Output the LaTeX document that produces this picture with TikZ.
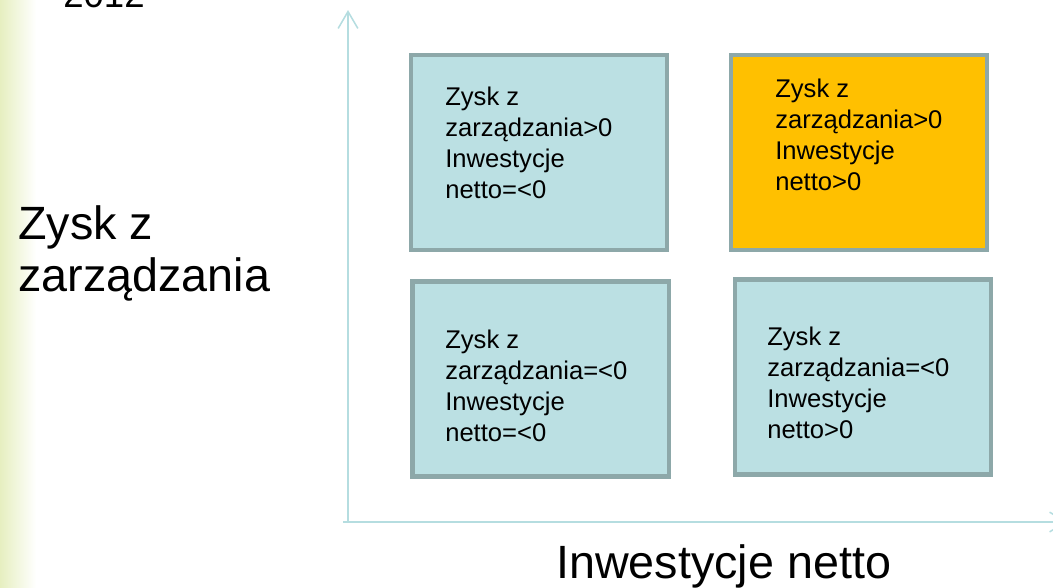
\documentclass[tikz,border=0pt]{standalone}
\usepackage{fontspec}
\setmainfont{Liberation Sans}
\usetikzlibrary{arrows.meta}

\definecolor{cellfill}{RGB}{187,224,227}
\definecolor{cellline}{RGB}{141,168,169}
\definecolor{hotfill}{RGB}{255,192,0}
\definecolor{axisline}{RGB}{181,221,224}
\definecolor{stripleft}{RGB}{230,239,192}

\tikzset{
  cell/.style={draw=cellline, line width=2.9pt, fill=cellfill,
    minimum width=6.4cm, minimum height=4.875cm, inner sep=0pt},
  celltext/.style={anchor=north west, align=left, inner sep=0pt,
    font=\fontsize{18.2}{22}\selectfont},
  biglabel/.style={align=left, inner sep=0pt,
    font=\fontsize{33.2}{37}\selectfont},
  axis/.style={draw=axisline, line width=1.1pt,
    -{Straight Barb[length=12pt,width=14pt,line width=1.1pt]}}
}

\begin{document}
\begin{tikzpicture}[x=0.025cm,y=-0.025cm]
%\draw [lightgray,step=50](0,0) grid (1053,587);
\useasboundingbox (0,0) rectangle (1053,587);
\clip (0,0) rectangle (1053,587);

\shade [left color=stripleft, right color=white] (0,0) rectangle (36,587); % faixa
\node [biglabel, anchor=base west, font=\fontsize{26}{30}\selectfont] (ano) at (63,7) {2012};

% eixos
\coordinate (origem) at (348,523);
\coordinate (ytopo) at (348,10);
\coordinate (xini) at (343,522);
\coordinate (xfim) at (1068,522);
\draw [axis] (origem) -- (ytopo);
\draw [axis] (xini) -- (xfim);

% quadrantes
\node [cell] (tl) at (539,152.5) {};
\node [cell, fill=hotfill] (tr) at (859,152.5) {};
\node [cell] (bl) at (540.5,379) {};
\node [cell] (br) at (863,377) {};

\node [celltext] (tltxt) at (445,86.5) {Zysk z\\zarządzania>0\\Inwestycje\\netto=<0};
\node [celltext] (trtxt) at (775,78.5) {Zysk z\\zarządzania>0\\Inwestycje\\netto>0};
\node [celltext] (bltxt) at (445,329.5) {Zysk z\\zarządzania=<0\\Inwestycje\\netto=<0};
\node [celltext] (brtxt) at (767,326.5) {Zysk z\\zarządzania=<0\\Inwestycje\\netto>0};

% rotulos dos eixos
\node [biglabel, anchor=north west] (ylab) at (18,205) {Zysk z\\zarządzania};
\node [biglabel, anchor=base west] (xlab) at (556,578) {Inwestycje netto};

\end{tikzpicture}
\end{document}
